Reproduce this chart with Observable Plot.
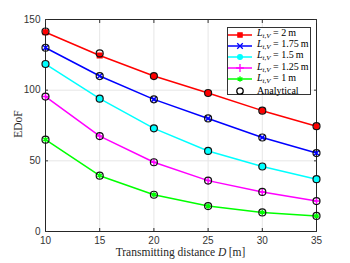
<!DOCTYPE html>
<html><head><meta charset="utf-8">
<script src="https://cdn.jsdelivr.net/npm/d3@7"></script>
<script src="https://cdn.jsdelivr.net/npm/@observablehq/plot@0.6"></script>
<style>
body{margin:0;background:#fff;}
#wrap{position:relative;width:350px;height:263px;}
#legend{position:absolute;left:227px;top:27px;width:84px;height:68px;border:1px solid #333;background:#fff;box-sizing:border-box;font-family:"Liberation Serif","Times New Roman",serif;font-size:10px;color:#000;padding-top:1px;}
.row{height:11.2px;line-height:11.2px;display:flex;align-items:center;white-space:nowrap;}
.row svg{flex:none;margin-right:3px;}
.xl{position:absolute;left:45px;width:271px;top:246px;text-align:center;font-family:"Liberation Serif","Times New Roman",serif;font-size:11.5px;color:#262626;}
.yl{position:absolute;left:-12px;top:118px;width:60px;text-align:center;transform:rotate(-90deg);font-family:"Liberation Serif","Times New Roman",serif;font-size:11.5px;color:#262626;}
</style></head>
<body><div id="wrap"></div>
<script>
const distances = [10, 15, 20, 25, 30, 35];
const edof2 = [141, 124.5, 110, 98, 85.5, 74.5];
const edof175 = [130, 110, 93.5, 80, 66.5, 55.5];
const edof15 = [118.5, 94, 73, 57, 46, 37];
const edof125 = [95.5, 67.5, 49, 36, 28, 21.5];
const edof1 = [65, 39.5, 26, 18, 13.5, 11];
const analytical2 = [141.5, 126, 110, 98, 85.5, 74.5];
const seriesNames = ["2 m", "1.75 m", "1.5 m", "1.25 m", "1 m"];
const seriesColors = ["#ff0000", "#0000ff", "#00ffff", "#ff00ff", "#00ff00"];
const seriesSymbols = ["square", "times", "circle", "plus", "asterisk"];
const xTicks = [10, 15, 20, 25, 30, 35];
const yTicks = [0, 50, 100, 150];

const allSeries = [edof2, edof175, edof15, edof125, edof1];
const analyticalSeries = [analytical2, edof175, edof15, edof125, edof1];
const rows = [], arows = [];
allSeries.forEach((vals, i) => vals.forEach((v, j) => rows.push({d: distances[j], v, s: seriesNames[i]})));
analyticalSeries.forEach((vals, i) => vals.forEach((v, j) => arows.push({d: distances[j], v, s: seriesNames[i]})));

const marks = [
  Plot.gridX(xTicks, {stroke: "#e6e6e6", strokeOpacity: 1}),
  Plot.gridY(yTicks, {stroke: "#e6e6e6", strokeOpacity: 1}),
  Plot.frame({stroke: "#262626"}),
  Plot.axisX(xTicks, {tickSize: -3, tickPadding: 8, label: null, stroke: "#262626"}),
  Plot.axisX(xTicks, {anchor: "top", tickSize: -3, tickFormat: () => "", label: null}),
  Plot.axisY(yTicks, {tickSize: -3, tickPadding: 8, label: null}),
  Plot.axisY(yTicks, {anchor: "right", tickSize: -3, tickFormat: () => "", label: null}),
];
seriesNames.forEach((name, i) => {
  const data = rows.filter(r => r.s === name);
  marks.push(Plot.line(data, {x: "d", y: "v", stroke: seriesColors[i], strokeWidth: 1.5}));
  const filled = seriesSymbols[i] === "square" || seriesSymbols[i] === "circle";
  marks.push(Plot.dot(data, {x: "d", y: "v", symbol: () => seriesSymbols[i], r: filled ? 2.6 : 2.4,
    fill: filled ? seriesColors[i] : "none", stroke: seriesColors[i], strokeWidth: 1.5}));
});
seriesNames.forEach((name, i) => {
  const data = arows.filter(r => r.s === name);
  marks.push(Plot.dot(data, {x: "d", y: "v", r: 3.5, stroke: "#111", strokeWidth: 1.2, fill: "none"}));
});

const chart = Plot.plot({
  width: 350, height: 263,
  marginLeft: 45, marginRight: 34, marginTop: 19, marginBottom: 32,
  x: {domain: [10, 35]},
  y: {domain: [0, 150]},
  symbol: {type: "identity"},
  style: {fontFamily: "'Liberation Sans', Arial, sans-serif", fontSize: "10px", color: "#333", background: "#fff"},
  marks
});
const wrap = document.getElementById("wrap");
wrap.appendChild(chart);

const yl = document.createElement("div"); yl.className = "yl"; yl.textContent = "EDoF"; wrap.appendChild(yl);
const xl = document.createElement("div"); xl.className = "xl";
xl.innerHTML = "Transmitting distance <i>D</i>&#8201;[m]"; wrap.appendChild(xl);

const legend = document.createElement("div"); legend.id = "legend";
function glyph(kind, color) {
  const g = {square: d3.symbolSquare, circle: d3.symbolCircle, times: d3.symbolTimes, plus: d3.symbolPlus, asterisk: d3.symbolAsterisk}[kind];
  const filled = kind === "square" || kind === "circle";
  const path = d3.symbol(g, filled ? 18 : 22)();
  return `<path transform="translate(12,5)" d="${path}" fill="${filled ? color : "none"}" stroke="${color}" stroke-width="1.3"/>`;
}
seriesNames.forEach((name, i) => {
  const r = document.createElement("div"); r.className = "row";
  r.innerHTML = `<svg width="26" height="10"><line x1="0" x2="24" y1="5" y2="5" stroke="${seriesColors[i]}" stroke-width="1.5"/>${glyph(seriesSymbols[i], seriesColors[i])}</svg><span><i>L</i><sub style="font-size:7px;vertical-align:-2px"><i>t,V</i></sub> = ${name.replace(" m", "&#8201;m")}</span>`;
  legend.appendChild(r);
});
const ra = document.createElement("div"); ra.className = "row";
ra.innerHTML = `<svg width="26" height="10"><circle cx="12" cy="5" r="3.2" fill="none" stroke="#000" stroke-width="1.3"/></svg><span>Analytical</span>`;
legend.appendChild(ra);
wrap.appendChild(legend);
</script></body></html>
